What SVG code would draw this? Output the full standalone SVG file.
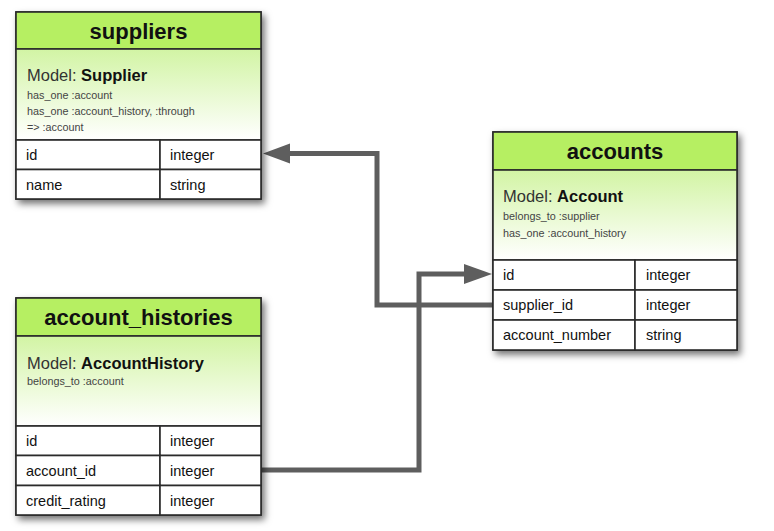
<svg xmlns="http://www.w3.org/2000/svg" width="774" height="531" viewBox="0 0 774 531">
<defs>
<linearGradient id="mg" x1="0" y1="0" x2="0" y2="1">
<stop offset="0" stop-color="#d2f4a4"/>
<stop offset="1" stop-color="#ffffff"/>
</linearGradient>
<filter id="sh" x="-10%" y="-10%" width="125%" height="125%">
<feDropShadow dx="3" dy="4" stdDeviation="3.5" flood-color="#000" flood-opacity="0.55"/>
</filter>
</defs>
<style>
.box{fill:#fff;stroke:#2b2b2b;stroke-width:1.6;filter:url(#sh)}
.hdr{fill:#b6ef62;stroke:#2b2b2b;stroke-width:1.6}
.mdl{fill:url(#mg);stroke:#2b2b2b;stroke-width:1.6}
.cell{fill:#fff;stroke:#2b2b2b;stroke-width:1.6}
.t{font-family:"Liberation Sans",Arial,sans-serif;font-weight:bold;font-size:22px;fill:#111;text-anchor:middle}
.m{font-family:"Liberation Sans",Arial,sans-serif;font-size:16.5px;fill:#333}
.m tspan{font-weight:bold;fill:#111}
.s{font-family:"Liberation Sans",Arial,sans-serif;font-size:10.8px;fill:#444}
.r{font-family:"Liberation Sans",Arial,sans-serif;font-size:14.5px;fill:#111}
.ln{fill:none;stroke:#5e5e5e;stroke-width:5}
.ah{fill:#5e5e5e}
</style>
<rect width="774" height="531" fill="#fff"/>
<g id="connectors">
<path class="ln" d="M493,305 H377 V153.5 H287"/>
<polygon class="ah" points="263,153.5 290,143.5 290,163.5"/>
<path class="ln" d="M261,470 H419 V274 H467"/>
<polygon class="ah" points="492,274 464,264 464,284"/>
</g>
<g id="suppliers">
<rect class="box" x="16" y="12" width="245" height="187"/>
<rect class="hdr" x="16" y="12" width="245" height="37"/>
<rect class="mdl" x="16" y="49" width="245" height="91"/>
<rect class="cell" x="16" y="140" width="144" height="29.5"/>
<rect class="cell" x="160" y="140" width="101" height="29.5"/>
<rect class="cell" x="16" y="169.5" width="144" height="29.5"/>
<rect class="cell" x="160" y="169.5" width="101" height="29.5"/>
<text class="t" x="138.5" y="38.5">suppliers</text>
<text class="m" x="27" y="81">Model: <tspan>Supplier</tspan></text>
<text class="s" x="27" y="99">has_one :account</text>
<text class="s" x="27" y="115">has_one :account_history, :through</text>
<text class="s" x="27" y="131">=&gt; :account</text>
<text class="r" x="26" y="160">id</text>
<text class="r" x="170" y="160">integer</text>
<text class="r" x="26" y="189.5">name</text>
<text class="r" x="170" y="189.5">string</text>
</g>
<g id="accounts">
<rect class="box" x="493" y="132" width="244" height="218"/>
<rect class="hdr" x="493" y="132" width="244" height="38"/>
<rect class="mdl" x="493" y="170" width="244" height="90"/>
<rect class="cell" x="493" y="260" width="142" height="30"/>
<rect class="cell" x="635" y="260" width="102" height="30"/>
<rect class="cell" x="493" y="290" width="142" height="30"/>
<rect class="cell" x="635" y="290" width="102" height="30"/>
<rect class="cell" x="493" y="320" width="142" height="30"/>
<rect class="cell" x="635" y="320" width="102" height="30"/>
<text class="t" x="615" y="159">accounts</text>
<text class="m" x="503" y="201.5">Model: <tspan>Account</tspan></text>
<text class="s" x="503" y="219.5">belongs_to :supplier</text>
<text class="s" x="503" y="236.5">has_one :account_history</text>
<text class="r" x="503" y="280">id</text>
<text class="r" x="646" y="280">integer</text>
<text class="r" x="503" y="310">supplier_id</text>
<text class="r" x="646" y="310">integer</text>
<text class="r" x="503" y="340">account_number</text>
<text class="r" x="646" y="340">string</text>
</g>
<g id="account_histories">
<rect class="box" x="16" y="298" width="245" height="217"/>
<rect class="hdr" x="16" y="298" width="245" height="38"/>
<rect class="mdl" x="16" y="336" width="245" height="90"/>
<rect class="cell" x="16" y="426" width="144" height="29.5"/>
<rect class="cell" x="160" y="426" width="101" height="29.5"/>
<rect class="cell" x="16" y="455.5" width="144" height="30"/>
<rect class="cell" x="160" y="455.5" width="101" height="30"/>
<rect class="cell" x="16" y="485.5" width="144" height="29.5"/>
<rect class="cell" x="160" y="485.5" width="101" height="29.5"/>
<text class="t" x="138.5" y="325">account_histories</text>
<text class="m" x="27" y="369">Model: <tspan>AccountHistory</tspan></text>
<text class="s" x="27" y="385">belongs_to :account</text>
<text class="r" x="26" y="446">id</text>
<text class="r" x="170" y="446">integer</text>
<text class="r" x="26" y="475.5">account_id</text>
<text class="r" x="170" y="475.5">integer</text>
<text class="r" x="26" y="505.5">credit_rating</text>
<text class="r" x="170" y="505.5">integer</text>
</g>
</svg>
